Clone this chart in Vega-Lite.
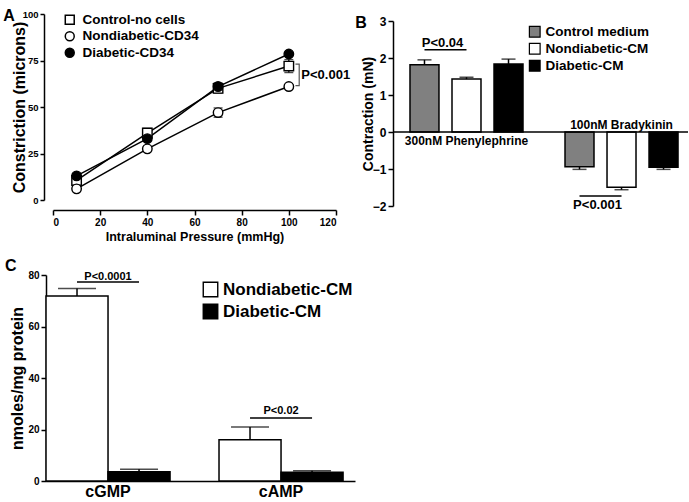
{
  "$schema": "https://vega.github.io/schema/vega-lite/v6.json",
  "padding": {"left": 3, "top": 8, "right": 0, "bottom": 0},
  "config": {
    "font": "Liberation Sans",
    "view": {"stroke": null},
    "axis": {"domainColor": "black", "domainWidth": 1.5, "tickColor": "black", "tickWidth": 1.5, "tickSize": 5, "labelColor": "black", "labelFontWeight": "bold", "titleColor": "black", "titleFontWeight": "bold", "grid": false, "labelPadding": 2},
    "legend": {"labelFontWeight": "bold", "labelColor": "black"},
    "title": {"color": "black"}
  },
  "resolve": {"scale": {"fill": "independent", "shape": "independent", "xOffset": "independent"}},
  "spacing": 15,
  "vconcat": [
    {
      "spacing": 4,
      "resolve": {"scale": {"fill": "independent", "shape": "independent", "xOffset": "independent"}},
      "hconcat": [
        {
          "width": 290,
          "height": 186,
          "title": {"text": "A", "anchor": "start", "frame": "bounds", "fontSize": 16, "fontWeight": "bold", "offset": 0, "dx": -8, "dy": 15},
          "layer": [
            {
              "data": {"values": [
                {"series": "Control-no cells", "p": 10, "v": 10.5, "lo": 9, "hi": 12},
                {"series": "Control-no cells", "p": 40, "v": 36, "lo": 33.5, "hi": 38.5},
                {"series": "Control-no cells", "p": 70, "v": 60, "lo": 57.5, "hi": 62.5},
                {"series": "Control-no cells", "p": 100, "v": 72, "lo": 68.5, "hi": 75.5},
                {"series": "Nondiabetic-CD34", "p": 10, "v": 6, "lo": 5, "hi": 7},
                {"series": "Nondiabetic-CD34", "p": 40, "v": 27.5, "lo": 26.5, "hi": 28.5},
                {"series": "Nondiabetic-CD34", "p": 70, "v": 47, "lo": 44.5, "hi": 49.5},
                {"series": "Nondiabetic-CD34", "p": 100, "v": 61, "lo": 60, "hi": 62},
                {"series": "Diabetic-CD34", "p": 10, "v": 13, "lo": 12, "hi": 14},
                {"series": "Diabetic-CD34", "p": 40, "v": 33, "lo": 32, "hi": 34},
                {"series": "Diabetic-CD34", "p": 70, "v": 61, "lo": 59, "hi": 63},
                {"series": "Diabetic-CD34", "p": 100, "v": 78.5, "lo": 77.5, "hi": 79.5}
              ]},
              "layer": [
                {
                  "mark": {"type": "line", "color": "black", "strokeWidth": 1.5},
                  "encoding": {
                    "x": {"field": "p", "type": "quantitative", "title": "Intraluminal Pressure (mmHg)"},
                    "y": {"field": "v", "type": "quantitative", "title": "Constriction (microns)"},
                    "detail": {"field": "series"}
                  }
                },
                {
                  "mark": {"type": "rule", "color": "black", "strokeWidth": 1.3},
                  "encoding": {
                    "x": {"field": "p", "type": "quantitative", "title": "Intraluminal Pressure (mmHg)"},
                    "y": {"field": "lo", "type": "quantitative", "title": "Constriction (microns)"},
                    "y2": {"field": "hi"}
                  }
                },
                {
                  "mark": {"type": "tick", "orient": "horizontal", "color": "black", "size": 9, "thickness": 1.3},
                  "encoding": {
                    "x": {"field": "p", "type": "quantitative", "title": "Intraluminal Pressure (mmHg)"},
                    "y": {"field": "lo", "type": "quantitative", "title": "Constriction (microns)"}
                  }
                },
                {
                  "mark": {"type": "tick", "orient": "horizontal", "color": "black", "size": 9, "thickness": 1.3},
                  "encoding": {
                    "x": {"field": "p", "type": "quantitative", "title": "Intraluminal Pressure (mmHg)"},
                    "y": {"field": "hi", "type": "quantitative", "title": "Constriction (microns)"}
                  }
                },
                {
                  "mark": {"type": "point", "filled": true, "stroke": "black", "strokeWidth": 1.4, "size": 90, "opacity": 1},
                  "encoding": {
                    "x": {"field": "p", "type": "quantitative", "title": "Intraluminal Pressure (mmHg)"},
                    "y": {"field": "v", "type": "quantitative", "title": "Constriction (microns)"},
                    "shape": {"field": "series", "type": "nominal", "title": null,
                      "scale": {"domain": ["Control-no cells", "Nondiabetic-CD34", "Diabetic-CD34"], "range": ["square", "circle", "circle"]},
                      "legend": {"orient": "none", "legendX": 17, "legendY": -1, "padding": 0, "labelFontSize": 13.5, "symbolSize": 80, "rowPadding": 0.5, "labelOffset": 6,
                        "encode": {"symbols": {"update": {"stroke": {"value": "black"}, "strokeWidth": {"value": 1.4}}}}}},
                    "fill": {"field": "series", "type": "nominal", "title": null,
                      "scale": {"domain": ["Control-no cells", "Nondiabetic-CD34", "Diabetic-CD34"], "range": ["white", "white", "black"]},
                      "legend": {"orient": "none", "legendX": 17, "legendY": -1, "padding": 0, "labelFontSize": 13.5, "symbolSize": 80, "rowPadding": 0.5, "labelOffset": 6,
                        "encode": {"symbols": {"update": {"stroke": {"value": "black"}, "strokeWidth": {"value": 1.4}}}}}}
                  }
                }
              ]
            },
            {
              "data": {"values": [
                {"p": 102.8, "v": 73, "i": 0},
                {"p": 104.4, "v": 73, "i": 1},
                {"p": 104.4, "v": 61.5, "i": 2},
                {"p": 102.8, "v": 61.5, "i": 3}
              ]},
              "mark": {"type": "line", "color": "#555", "strokeWidth": 1.2},
              "encoding": {
                "x": {"field": "p", "type": "quantitative", "title": "Intraluminal Pressure (mmHg)"},
                "y": {"field": "v", "type": "quantitative", "title": "Constriction (microns)"},
                "order": {"field": "i"}
              }
            },
            {
              "data": {"values": [{"p": 105.3, "v": 67.3, "t": "P<0.001"}]},
              "mark": {"type": "text", "align": "left", "baseline": "middle", "fontSize": 13, "fontWeight": "bold", "color": "black"},
              "encoding": {
                "x": {"field": "p", "type": "quantitative", "title": "Intraluminal Pressure (mmHg)",
                  "scale": {"domain": [0, 120], "range": [7, 290]},
                  "axis": {"values": [0, 20, 40, 60, 80, 100, 120], "offset": 10, "labelFontSize": 10, "titleFontSize": 12.5, "titlePadding": 3}},
                "y": {"field": "v", "type": "quantitative", "title": "Constriction (microns)",
                  "scale": {"domain": [0, 100]},
                  "axis": {"values": [0, 25, 50, 75, 100], "offset": 2, "tickSize": 4, "labelFontSize": 9.5, "titleFontSize": 16, "titlePadding": -5}},
                "text": {"field": "t"}
              }
            }
          ]
        },
        {
          "width": 295,
          "height": 192,
          "title": {"text": "B", "anchor": "start", "frame": "bounds", "fontSize": 16, "fontWeight": "bold", "offset": 0, "dx": -6, "dy": 17},
          "layer": [
            {
              "data": {"values": [
                {"g": "300nM Phenylephrine", "s": "Control medium", "v": 1.82, "cap": 1.95},
                {"g": "300nM Phenylephrine", "s": "Nondiabetic-CM", "v": 1.43, "cap": 1.48},
                {"g": "300nM Phenylephrine", "s": "Diabetic-CM", "v": 1.84, "cap": 1.97},
                {"g": "100nM Bradykinin", "s": "Control medium", "v": -0.94, "cap": -1.01},
                {"g": "100nM Bradykinin", "s": "Nondiabetic-CM", "v": -1.49, "cap": -1.56},
                {"g": "100nM Bradykinin", "s": "Diabetic-CM", "v": -0.95, "cap": -1.01}
              ]},
              "layer": [
                {
                  "mark": {"type": "bar", "stroke": "black", "strokeWidth": 1.5},
                  "encoding": {
                    "x": {"field": "g", "type": "nominal", "sort": ["300nM Phenylephrine", "100nM Bradykinin"],
                      "scale": {"paddingInner": 0.271, "paddingOuter": 0.087, "align": 0.63}, "axis": null},
                    "xOffset": {"field": "s", "type": "nominal", "sort": ["Control medium", "Nondiabetic-CM", "Diabetic-CM"],
                      "scale": {"paddingInner": 0.31, "paddingOuter": 0}},
                    "y": {"field": "v", "type": "quantitative", "title": "Contraction (mN)",
                      "scale": {"domain": [-2, 3], "range": [192, 7]},
                      "axis": {"values": [-2, -1, 0, 1, 2, 3], "labelFontSize": 12, "titleFontSize": 14, "titlePadding": -3}},
                    "fill": {"field": "s", "type": "nominal", "title": null,
                      "scale": {"domain": ["Control medium", "Nondiabetic-CM", "Diabetic-CM"], "range": ["#808080", "white", "black"]},
                      "legend": {"orient": "none", "legendX": 135, "legendY": 11, "padding": 0, "symbolType": "square", "symbolSize": 115, "symbolStrokeColor": "black", "symbolStrokeWidth": 1.2, "labelFontSize": 13.5, "rowPadding": 0, "labelOffset": 4}}
                  }
                },
                {
                  "mark": {"type": "rule", "color": "black", "strokeWidth": 1.5},
                  "encoding": {
                    "x": {"field": "g", "type": "nominal", "sort": ["300nM Phenylephrine", "100nM Bradykinin"]},
                    "xOffset": {"field": "s", "type": "nominal", "sort": ["Control medium", "Nondiabetic-CM", "Diabetic-CM"]},
                    "y": {"field": "v", "type": "quantitative", "title": "Contraction (mN)",
                      "axis": {"values": [-2, -1, 0, 1, 2, 3], "labelFontSize": 12, "titleFontSize": 14, "titlePadding": -3}},
                    "y2": {"field": "cap"}
                  }
                },
                {
                  "mark": {"type": "tick", "orient": "horizontal", "color": "black", "size": 14, "thickness": 1.5},
                  "encoding": {
                    "x": {"field": "g", "type": "nominal", "sort": ["300nM Phenylephrine", "100nM Bradykinin"]},
                    "xOffset": {"field": "s", "type": "nominal", "sort": ["Control medium", "Nondiabetic-CM", "Diabetic-CM"]},
                    "y": {"field": "cap", "type": "quantitative", "title": "Contraction (mN)",
                      "axis": {"values": [-2, -1, 0, 1, 2, 3], "labelFontSize": 12, "titleFontSize": 14, "titlePadding": -3}}
                  }
                }
              ]
            },
            {
              "data": {"values": [{"z": 0}]},
              "mark": {"type": "rule", "color": "black", "strokeWidth": 1.5},
              "encoding": {"y": {"field": "z", "type": "quantitative", "title": "Contraction (mN)",
                "axis": {"values": [-2, -1, 0, 1, 2, 3], "labelFontSize": 12, "titleFontSize": 14, "titlePadding": -3}}}
            },
            {
              "data": {"values": [
                {"g": "300nM Phenylephrine", "v": -0.23},
                {"g": "100nM Bradykinin", "v": 0.19}
              ]},
              "mark": {"type": "text", "fontSize": 12, "fontWeight": "bold", "color": "black", "baseline": "middle"},
              "encoding": {
                "x": {"field": "g", "type": "nominal", "sort": ["300nM Phenylephrine", "100nM Bradykinin"]},
                "y": {"field": "v", "type": "quantitative", "title": "Contraction (mN)",
                  "axis": {"values": [-2, -1, 0, 1, 2, 3], "labelFontSize": 12, "titleFontSize": 14, "titlePadding": -3}},
                "text": {"field": "g"}
              }
            },
            {
              "data": {"values": [
                {"a": 1, "g": "300nM Phenylephrine", "s": "Control medium", "v": 2.22},
                {"a": 1, "g": "300nM Phenylephrine", "s": "Nondiabetic-CM", "v": 2.22},
                {"a": 2, "g": "100nM Bradykinin", "s": "Control medium", "v": -1.73},
                {"a": 2, "g": "100nM Bradykinin", "s": "Nondiabetic-CM", "v": -1.73}
              ]},
              "mark": {"type": "line", "color": "black", "strokeWidth": 1.5},
              "encoding": {
                "x": {"field": "g", "type": "nominal", "sort": ["300nM Phenylephrine", "100nM Bradykinin"]},
                "xOffset": {"field": "s", "type": "nominal", "sort": ["Control medium", "Nondiabetic-CM", "Diabetic-CM"]},
                "y": {"field": "v", "type": "quantitative", "title": "Contraction (mN)",
                  "axis": {"values": [-2, -1, 0, 1, 2, 3], "labelFontSize": 12, "titleFontSize": 14, "titlePadding": -3}},
                "detail": {"field": "a"}
              }
            },
            {
              "data": {"values": [
                {"g": "300nM Phenylephrine", "s": "Control medium", "v": 2.41, "t": "P<0.04"},
                {"g": "100nM Bradykinin", "s": "Control medium", "v": -1.97, "t": "P<0.001"}
              ]},
              "mark": {"type": "text", "fontSize": 13, "fontWeight": "bold", "color": "black", "baseline": "middle", "dx": 18},
              "encoding": {
                "x": {"field": "g", "type": "nominal", "sort": ["300nM Phenylephrine", "100nM Bradykinin"]},
                "xOffset": {"field": "s", "type": "nominal", "sort": ["Control medium", "Nondiabetic-CM", "Diabetic-CM"]},
                "y": {"field": "v", "type": "quantitative", "title": "Contraction (mN)",
                  "axis": {"values": [-2, -1, 0, 1, 2, 3], "labelFontSize": 12, "titleFontSize": 14, "titlePadding": -3}},
                "text": {"field": "t"}
              }
            }
          ]
        }
      ]
    },
    {
      "width": 309,
      "height": 206,
      "title": {"text": "C", "anchor": "start", "frame": "bounds", "fontSize": 16, "fontWeight": "bold", "offset": 0, "dx": -5, "dy": 4},
      "layer": [
        {
          "data": {"values": [
            {"g": "cGMP", "s": "Nondiabetic-CM", "v": 71.8, "cap": 74.8},
            {"g": "cGMP", "s": "Diabetic-CM", "v": 3.6, "cap": 4.6},
            {"g": "cAMP", "s": "Nondiabetic-CM", "v": 16, "cap": 21},
            {"g": "cAMP", "s": "Diabetic-CM", "v": 3.4, "cap": 4}
          ]},
          "layer": [
            {
              "mark": {"type": "bar", "stroke": "black", "strokeWidth": 1.5},
              "encoding": {
                "x": {"field": "g", "type": "nominal", "sort": ["cGMP", "cAMP"],
                  "scale": {"paddingInner": 0.283, "paddingOuter": 0.0345, "align": 0},
                  "axis": {"title": null, "labelAngle": 0, "labelFontSize": 16, "ticks": false, "labelPadding": 2}},
                "xOffset": {"field": "s", "type": "nominal", "sort": ["Nondiabetic-CM", "Diabetic-CM"],
                  "scale": {"paddingInner": 0, "paddingOuter": 0}},
                "y": {"field": "v", "type": "quantitative", "title": "nmoles/mg protein",
                  "scale": {"domain": [0, 80]},
                  "axis": {"values": [0, 20, 40, 60, 80], "labelFontSize": 10, "titleFontSize": 16, "titlePadding": 2}},
                "fill": {"field": "s", "type": "nominal", "title": null,
                  "scale": {"domain": ["Nondiabetic-CM", "Diabetic-CM"], "range": ["white", "black"]},
                  "legend": {"orient": "none", "legendX": 156, "legendY": 6, "padding": 0, "symbolType": "square", "symbolSize": 210, "symbolStrokeColor": "black", "symbolStrokeWidth": 1.4, "labelFontSize": 17, "rowPadding": 1, "labelOffset": 4}}
              }
            },
            {
              "mark": {"type": "rule", "color": "black", "strokeWidth": 1.5},
              "encoding": {
                "x": {"field": "g", "type": "nominal", "sort": ["cGMP", "cAMP"]},
                "xOffset": {"field": "s", "type": "nominal", "sort": ["Nondiabetic-CM", "Diabetic-CM"]},
                "y": {"field": "v", "type": "quantitative", "title": "nmoles/mg protein"},
                "y2": {"field": "cap"}
              }
            },
            {
              "mark": {"type": "tick", "orient": "horizontal", "color": "black", "size": 38, "thickness": 1.5},
              "encoding": {
                "x": {"field": "g", "type": "nominal", "sort": ["cGMP", "cAMP"]},
                "xOffset": {"field": "s", "type": "nominal", "sort": ["Nondiabetic-CM", "Diabetic-CM"]},
                "y": {"field": "cap", "type": "quantitative", "title": "nmoles/mg protein"}
              }
            }
          ]
        },
        {
          "data": {"values": [
            {"a": 1, "g": "cGMP", "s": "Nondiabetic-CM", "v": 77.3},
            {"a": 1, "g": "cGMP", "s": "Diabetic-CM", "v": 77.3},
            {"a": 2, "g": "cAMP", "s": "Nondiabetic-CM", "v": 24.5},
            {"a": 2, "g": "cAMP", "s": "Diabetic-CM", "v": 24.5}
          ]},
          "mark": {"type": "line", "color": "black", "strokeWidth": 1.5},
          "encoding": {
            "x": {"field": "g", "type": "nominal", "sort": ["cGMP", "cAMP"]},
            "xOffset": {"field": "s", "type": "nominal", "sort": ["Nondiabetic-CM", "Diabetic-CM"]},
            "y": {"field": "v", "type": "quantitative", "title": "nmoles/mg protein"},
            "detail": {"field": "a"}
          }
        },
        {
          "data": {"values": [
            {"g": "cGMP", "v": 79.3, "t": "P<0.0001"},
            {"g": "cAMP", "v": 27.3, "t": "P<0.02"}
          ]},
          "mark": {"type": "text", "fontSize": 11, "fontWeight": "bold", "color": "black", "baseline": "middle"},
          "encoding": {
            "x": {"field": "g", "type": "nominal", "sort": ["cGMP", "cAMP"]},
            "y": {"field": "v", "type": "quantitative", "title": "nmoles/mg protein"},
            "text": {"field": "t"}
          }
        }
      ]
    }
  ]
}
